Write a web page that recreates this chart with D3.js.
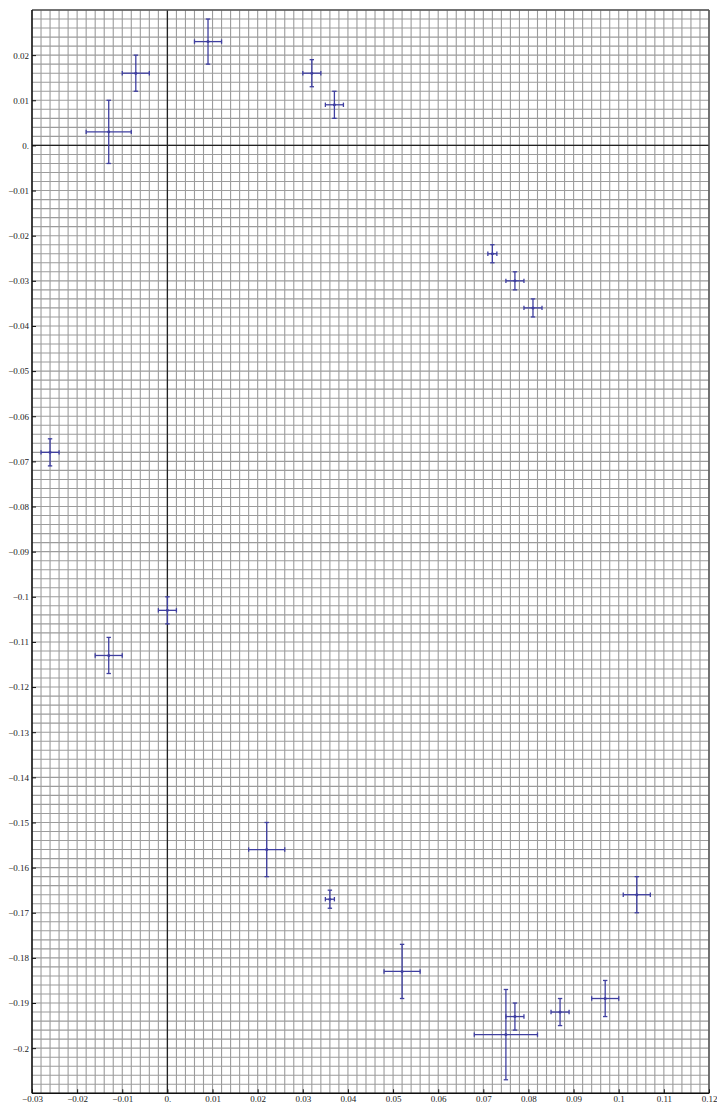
<!DOCTYPE html>
<html><head><meta charset="utf-8">
<script src="https://cdn.jsdelivr.net/npm/d3@7"></script>
<style>body{margin:0;background:#fff}svg{display:block}</style>
</head><body>
<svg id="c" width="717" height="1104"></svg>
<script>
const xs   = [-0.013,-0.007,0.009,0.032,0.037,0.072,0.077,0.081,-0.026,0.000,-0.013,0.022,0.036,0.052,0.104,0.097,0.087,0.077,0.075];
const ys   = [0.003,0.016,0.023,0.016,0.009,-0.024,-0.030,-0.036,-0.068,-0.103,-0.113,-0.156,-0.167,-0.183,-0.166,-0.189,-0.192,-0.193,-0.197];
const xErr = [0.005,0.003,0.003,0.002,0.002,0.001,0.002,0.002,0.002,0.002,0.003,0.004,0.001,0.004,0.003,0.003,0.002,0.002,0.007];
const yErr = [0.007,0.004,0.005,0.003,0.003,0.002,0.002,0.002,0.003,0.003,0.004,0.006,0.002,0.006,0.004,0.004,0.003,0.003,0.010];
const xTicks = [-0.03,-0.02,-0.01,0,0.01,0.02,0.03,0.04,0.05,0.06,0.07,0.08,0.09,0.1,0.11,0.12];
const yTicks = [0.02,0.01,0,-0.01,-0.02,-0.03,-0.04,-0.05,-0.06,-0.07,-0.08,-0.09,-0.1,-0.11,-0.12,-0.13,-0.14,-0.15,-0.16,-0.17,-0.18,-0.19,-0.2];

const svg = d3.select('#c');
const L=32, R=709, T=10, B=1093.3;
const x = d3.scaleLinear().domain([-0.03,0.12]).range([L,R]);
const y = d3.scaleLinear().domain([-0.21,0.03]).range([B,T]);

function fmt(v){
  if (Math.abs(v)<1e-9) return '0.';
  let s = (+Math.abs(v).toFixed(3)).toString();
  return (v<0?'\u2212':'') + s;
}

// grid
const gx = d3.range(-0.03, 0.1201, 0.002).map(v=>+v.toFixed(4));
const gy = d3.range(-0.21, 0.0301, 0.002).map(v=>+v.toFixed(4));
const g = svg.append('g');
g.selectAll('.gx').data(gx).join('line')
  .attr('x1',d=>x(d)).attr('x2',d=>x(d))
  .attr('y1',T).attr('y2',B).attr('stroke','#9c9c9c').attr('stroke-width',1.1);
g.selectAll('.gy').data(gy).join('line')
  .attr('y1',d=>y(d)).attr('y2',d=>y(d))
  .attr('x1',L).attr('x2',R).attr('stroke','#9c9c9c').attr('stroke-width',1.1);

// zero axes
svg.append('line').attr('x1',x(0)).attr('x2',x(0)).attr('y1',T).attr('y2',B).attr('stroke','#222').attr('stroke-width',1.3);
svg.append('line').attr('y1',y(0)).attr('y2',y(0)).attr('x1',L).attr('x2',R).attr('stroke','#222').attr('stroke-width',1.3);

// frame
svg.append('line').attr('x1',L).attr('x2',R).attr('y1',T).attr('y2',T).attr('stroke','#555').attr('stroke-width',1.5);
svg.append('line').attr('x1',R).attr('x2',R).attr('y1',T).attr('y2',B).attr('stroke','#555').attr('stroke-width',1.5);
svg.append('line').attr('x1',L).attr('x2',L).attr('y1',T).attr('y2',B).attr('stroke','#111').attr('stroke-width',1.5);
svg.append('line').attr('x1',L).attr('x2',R).attr('y1',B).attr('y2',B).attr('stroke','#111').attr('stroke-width',1.5);

// axes
const yAxis = d3.axisLeft(y).tickValues(yTicks).tickFormat(fmt).tickSize(-4).tickPadding(6);
const ya = svg.append('g').attr('transform',`translate(${L},0)`).call(yAxis);
const xAxis = d3.axisBottom(x).tickValues(xTicks).tickFormat(fmt).tickSize(-4).tickPadding(6);
const xa = svg.append('g').attr('transform',`translate(0,${B})`).call(xAxis);
[ya,xa].forEach(a=>{
  a.attr('font-family',null).attr('font-size',null);
  a.select('.domain').remove();
  a.selectAll('.tick line').attr('stroke','#111');
  a.selectAll('text').style('font-family','"Liberation Serif", "DejaVu Serif", serif').style('font-size','9px').attr('fill','#222');
});
xa.selectAll('text').attr('y',8.5).attr('dy',null);
ya.selectAll('text').attr('x',-3);

// error bars
const col = '#3f3fa0';
const data = xs.map((v,i)=>({x:v,y:ys[i],ex:xErr[i],ey:yErr[i]}));
const eb = svg.append('g').attr('stroke',col).attr('stroke-width',1.3);
const cap = 2.2;
data.forEach(d=>{
  const cx=x(d.x), cy=y(d.y);
  const x0=x(d.x-d.ex), x1=x(d.x+d.ex), y0=y(d.y-d.ey), y1=y(d.y+d.ey);
  eb.append('line').attr('x1',x0).attr('x2',x1).attr('y1',cy).attr('y2',cy);
  eb.append('line').attr('x1',cx).attr('x2',cx).attr('y1',y0).attr('y2',y1);
  eb.append('line').attr('x1',x0).attr('x2',x0).attr('y1',cy-cap).attr('y2',cy+cap);
  eb.append('line').attr('x1',x1).attr('x2',x1).attr('y1',cy-cap).attr('y2',cy+cap);
  eb.append('line').attr('x1',cx-cap).attr('x2',cx+cap).attr('y1',y0).attr('y2',y0);
  eb.append('line').attr('x1',cx-cap).attr('x2',cx+cap).attr('y1',y1).attr('y2',y1);
  svg.append('circle').attr('cx',cx).attr('cy',cy).attr('r',1.5).attr('fill',col);
});
</script>
</body></html>
